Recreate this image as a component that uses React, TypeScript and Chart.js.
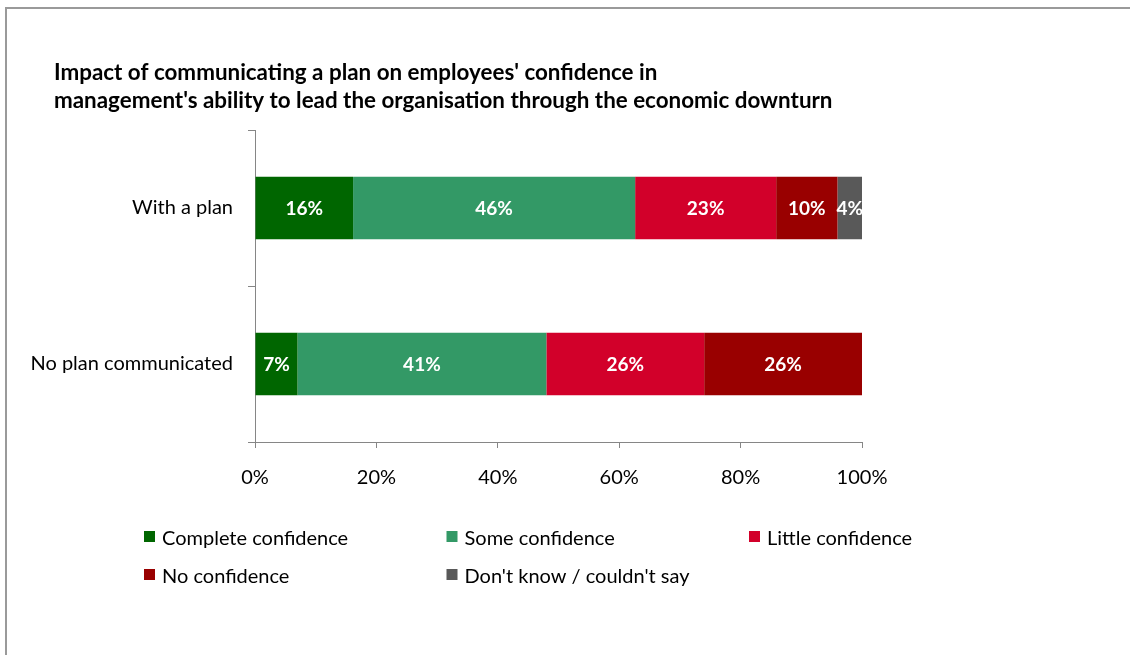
import React, { useEffect, useRef } from 'react';
import { Chart, registerables } from 'chart.js';

Chart.register(...registerables);

const categories = ['With a plan', 'No plan communicated'];
const seriesNames = [
  'Complete confidence',
  'Some confidence',
  'Little confidence',
  'No confidence',
  "Don't know / couldn't say",
];
const completeConfidence = [16, 7];
const someConfidence = [46, 41];
const littleConfidence = [23, 26];
const noConfidence = [10, 26];
const dontKnow = [4, 0];
const xTickValues = [0, 20, 40, 60, 80, 100];
const titleLines = [
  "Impact of communicating a plan on employees' confidence in",
  "management's ability to lead the organisation through the economic downturn",
];
const seriesColors = ['#006600', '#339966', '#D2002A', '#990000', '#595959'];

const FONT = "Lato, 'Noto Sans', sans-serif";

const allSeries = [completeConfidence, someConfidence, littleConfidence, noConfidence, dontKnow];
const rowTotals = categories.map((_, i) => allSeries.reduce((s, arr) => s + arr[i], 0));

const titlePlugin = {
  id: 'leftTitle',
  afterDraw(chart: any) {
    const o = chart.options.plugins.leftTitle;
    const ctx = chart.ctx;
    ctx.save();
    ctx.font = `bold ${o.fontSize}px ${FONT}`;
    ctx.fillStyle = '#000';
    ctx.textAlign = 'left';
    ctx.textBaseline = 'middle';
    o.lines.forEach((line: string, i: number) => {
      ctx.fillText(line, o.left, o.top + i * o.lineHeight);
    });
    ctx.restore();
  },
};

const gridLegend = {
  id: 'gridLegend',
  afterDraw(chart: any) {
    const o = chart.options.plugins.gridLegend;
    const ctx = chart.ctx;
    ctx.save();
    chart.data.datasets.forEach((ds: any, i: number) => {
      const col = i % o.columns;
      const row = Math.floor(i / o.columns);
      const x = o.left + col * o.colWidth;
      const y = o.top + row * o.rowHeight;
      ctx.fillStyle = ds.backgroundColor;
      ctx.fillRect(x, y + o.boxOffset, o.box, o.box);
      ctx.fillStyle = '#000';
      ctx.font = `${o.fontSize}px ${FONT}`;
      ctx.textBaseline = 'middle';
      ctx.textAlign = 'left';
      ctx.fillText(ds.label, x + o.textGap, y);
    });
    ctx.restore();
  },
};

const barLabels = {
  id: 'barLabels',
  afterDatasetsDraw(chart: any) {
    const ctx = chart.ctx;
    ctx.save();
    ctx.font = `bold 19px ${FONT}`;
    ctx.fillStyle = '#ffffff';
    ctx.textAlign = 'center';
    ctx.textBaseline = 'middle';
    chart.data.datasets.forEach((ds: any, di: number) => {
      const meta = chart.getDatasetMeta(di);
      meta.data.forEach((el: any, i: number) => {
        const v = ds.rawValues[i];
        if (!v) return;
        const x = (el.x + el.base) / 2;
        ctx.fillText(`${v}%`, x, el.y + 1);
      });
    });
    ctx.restore();
  },
};

export default function App() {
  const ref = useRef<HTMLCanvasElement>(null);
  useEffect(() => {
    if (!ref.current) return;
    const datasets = allSeries.map((arr, si) => ({
      label: seriesNames[si],
      data: arr.map((v, i) => (v / rowTotals[i]) * 100),
      rawValues: arr,
      backgroundColor: seriesColors[si],
      borderWidth: 0,
      categoryPercentage: 1,
      barPercentage: 0.4,
    }));
    const chart = new Chart(ref.current, {
      type: 'bar',
      data: { labels: categories, datasets: datasets as any },
      plugins: [titlePlugin, gridLegend, barLabels],
      options: {
        indexAxis: 'y',
        animation: false,
        responsive: false,
        maintainAspectRatio: false,
        layout: { padding: { left: 10, right: 268, top: 130, bottom: 163 } },
        plugins: {
          legend: { display: false },
          tooltip: { enabled: false },
          title: { display: false },
          leftTitle: {
            lines: titleLines,
            left: 54,
            top: 73,
            lineHeight: 28,
            fontSize: 22.4,
          },
          gridLegend: {
            left: 144,
            top: 539,
            columns: 3,
            colWidth: 302.5,
            rowHeight: 38,
            box: 11,
            boxOffset: -8,
            textGap: 18,
            fontSize: 20,
          },
        } as any,
        scales: {
          x: {
            stacked: true,
            min: 0,
            max: 100,
            afterBuildTicks: (scale: any) => {
              scale.ticks = xTickValues.map((v) => ({ value: v }));
            },
            afterFit: (scale: any) => {
              scale.height = 50;
            },
            ticks: {
              padding: 18,
              color: '#000',
              font: { family: FONT, size: 20 },
              callback: (v: any) => `${v}%`,
            },
            grid: {
              drawOnChartArea: false,
              drawTicks: true,
              tickLength: 6,
              color: '#868686',
            },
            border: { display: true, color: '#868686', width: 1 },
          },
          y: {
            stacked: true,
            offset: true,
            afterFit: (scale: any) => {
              scale.width = 245;
            },
            ticks: {
              padding: 15,
              color: '#000',
              font: { family: FONT, size: 20 },
            },
            grid: {
              offset: true,
              drawOnChartArea: false,
              drawTicks: true,
              tickLength: 7,
              color: '#868686',
            },
            border: { display: true, color: '#868686', width: 1 },
          },
        },
      },
    });
    return () => chart.destroy();
  }, []);

  return (
    <div style={{ position: 'absolute', left: 0, top: 0, width: 1130, height: 655, background: '#fff' }}>
      <canvas ref={ref} width={1130} height={655} style={{ position: 'absolute', left: 0, top: 0 }} />
      <div
        style={{
          position: 'absolute',
          left: 5,
          top: 7,
          width: 1130,
          height: 660,
          borderLeft: '2px solid #9a9a9a',
          borderTop: '2px solid #9a9a9a',
          pointerEvents: 'none',
        }}
      />
    </div>
  );
}
